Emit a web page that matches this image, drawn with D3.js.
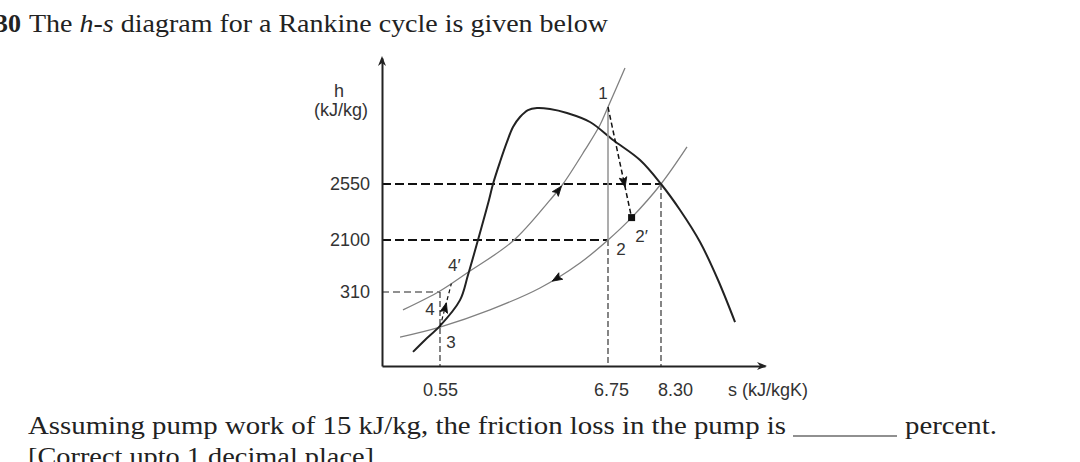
<!DOCTYPE html>
<html><head><meta charset="utf-8">
<script src="https://cdn.jsdelivr.net/npm/d3@7"></script>
<style>
html,body{margin:0;padding:0;background:#fff;overflow:hidden}
svg{display:block}
</style></head>
<body>
<svg id="c" width="1080" height="462"></svg>
<script>
// ---- data (s in kJ/kgK, h in kJ/kg, schematic values) ----
const sTicks = [0.55, 6.75, 8.30];
const sTickLabels = ["0.55", "6.75", "8.30"];
const hTicks = [310, 2100, 2550];
const hTickLabels = ["310", "2100", "2550"];

// saturation dome
const domeS = [0.294, 0.408, 0.55, 1.288, 1.583, 1.952, 2.358, 2.506, 2.764, 3.022, 3.244, 3.502, 3.797, 4.130, 4.609, 5.236, 6.085, 6.896, 7.686, 8.30, 8.856, 9.441, 9.967, 10.464];
const domeH = [59, 109, 168, 276, 895, 2100, 2421, 2550, 2726, 2887, 3007, 3087, 3143, 3159, 3151, 3119, 3047, 2903, 2742, 2550, 2341, 2031, 723, 184];

// high-pressure isobar (through 4, 4', 1)
const highS = [0.199, 0.55, 1.546, 3.244, 4.609, 5.089, 5.901, 6.454, 6.75, 7.247];
const highH = [235, 344, 964, 2066, 2421, 2550, 2823, 3023, 3167, 3480];

// low-pressure isobar (through 3, 2, 2')
const lowS = [0.171, 0.55, 2.395, 4.240, 5.716, 6.75, 7.44, 8.30, 9.060];
const lowH = [121, 163, 235, 448, 1308, 2100, 2280, 2550, 2847];

// state points
const pointNames = ["1", "2", "2\u2032", "3", "4", "4\u2032"];
const pointS = [6.75, 6.75, 7.44, 0.55, 0.55, 0.97];
const pointH = [3167, 2100, 2280, 163, 310, 600];

// header / question texts
const titleNum = "30";
const titleParts = ["The ", "h-s", " diagram for a Rankine cycle is given below"];
const question = "Assuming pump work of 15 kJ/kg, the friction loss in the pump is";
const questionEnd = "percent.";
const note = "[Correct upto 1 decimal place]";

// ---- drawing ----
const svg = d3.select("#c");
const x = d3.scaleLinear().domain([0, 0.55, 6.75, 8.30, 11.34]).range([382, 440, 608, 661, 765]);
const y = d3.scaleLinear().domain([0, 310, 2100, 2550, 3560]).range([366, 292, 240, 184, 58]);
const P = {}; pointNames.forEach((n, i) => P[n] = [x(pointS[i]), y(pointH[i])]);
const sansF = "'Liberation Sans', Arial, sans-serif";
const serifF = "'Liberation Serif', 'Times New Roman', serif";
const line = d3.line().x(d => x(d[0])).y(d => y(d[1])).curve(d3.curveCatmullRom.alpha(0.5));
const zip = (a, b) => a.map((v, i) => [v, b[i]]);

// title
svg.append("text").attr("x", -5).attr("y", 32).attr("font-family", serifF).attr("font-size", 26)
  .attr("font-weight", "bold").attr("fill", "#222").text(titleNum);
const t = svg.append("text").attr("x", 29).attr("y", 32).attr("font-family", serifF).attr("font-size", 26).attr("fill", "#222");
titleParts.forEach((p, i) => t.append("tspan").attr("font-style", i === 1 ? "italic" : null).text(p));
t.attr("textLength", 579).attr("lengthAdjust", "spacingAndGlyphs");

// question
svg.append("text").attr("x", 28).attr("y", 434).attr("font-family", serifF).attr("font-size", 26).attr("fill", "#222")
  .attr("textLength", 758).attr("lengthAdjust", "spacingAndGlyphs").text(question);
svg.append("line").attr("x1", 793).attr("x2", 897).attr("y1", 436).attr("y2", 436).attr("stroke", "#222").attr("stroke-width", 1.2);
svg.append("text").attr("x", 905).attr("y", 434).attr("font-family", serifF).attr("font-size", 26).attr("fill", "#222")
  .attr("textLength", 92).attr("lengthAdjust", "spacingAndGlyphs").text(questionEnd);
svg.append("text").attr("x", 28).attr("y", 465).attr("font-family", serifF).attr("font-size", 26).attr("fill", "#222")
  .attr("textLength", 346).attr("lengthAdjust", "spacingAndGlyphs").text(note);

// guide lines
const g = svg.append("g");
g.append("line").attr("x1", x(0)).attr("x2", x(8.30)).attr("y1", y(2550)).attr("y2", y(2550))
  .attr("stroke", "#111").attr("stroke-width", 2.2).attr("stroke-dasharray", "9,4");
g.append("line").attr("x1", x(0)).attr("x2", x(6.75)).attr("y1", y(2100)).attr("y2", y(2100))
  .attr("stroke", "#111").attr("stroke-width", 2.2).attr("stroke-dasharray", "9,4");
g.append("line").attr("x1", x(0)).attr("x2", x(0.55)).attr("y1", y(310)).attr("y2", y(310))
  .attr("stroke", "#222").attr("stroke-width", 1.1).attr("stroke-dasharray", "7,4");
[[0.55, 310], [6.75, 2100], [8.30, 2550]].forEach(([s, h]) => {
  g.append("line").attr("x1", x(s)).attr("x2", x(s)).attr("y1", y(h)).attr("y2", y(0))
    .attr("stroke", "#222").attr("stroke-width", 1.1).attr("stroke-dasharray", "6,3");
});

// isobars
const highPath = g.append("path").attr("d", line(zip(highS, highH))).attr("fill", "none").attr("stroke", "#808080").attr("stroke-width", 1.3);
const lowPath = g.append("path").attr("d", line(zip(lowS, lowH))).attr("fill", "none").attr("stroke", "#808080").attr("stroke-width", 1.3);
// dome
g.append("path").attr("d", line(zip(domeS, domeH))).attr("fill", "none").attr("stroke", "#222").attr("stroke-width", 2);

// isentropic 1-2 (solid grey)
g.append("line").attr("x1", P["1"][0]).attr("y1", P["1"][1]).attr("x2", P["2"][0]).attr("y2", P["2"][1])
  .attr("stroke", "#999").attr("stroke-width", 1.6);
// actual 1-2'
g.append("line").attr("x1", P["1"][0]).attr("y1", P["1"][1]).attr("x2", P["2\u2032"][0]).attr("y2", P["2\u2032"][1])
  .attr("stroke", "#111").attr("stroke-width", 1.5).attr("stroke-dasharray", "5,3");
// pump 3-4'
g.append("line").attr("x1", P["3"][0]).attr("y1", P["3"][1]).attr("x2", P["4\u2032"][0]).attr("y2", P["4\u2032"][1])
  .attr("stroke", "#111").attr("stroke-width", 1.2).attr("stroke-dasharray", "4,3");

// 2' marker
g.append("rect").attr("x", P["2\u2032"][0] - 3.5).attr("y", P["2\u2032"][1] - 3.5).attr("width", 7).attr("height", 7).attr("fill", "#111");

// arrowheads
const headD = "M4,0 L-6,-3.8 L-4,0 L-6,3.8 Z";
function arrowAt(node, frac, reverse) {
  const L = node.getTotalLength();
  const a = node.getPointAtLength(L * frac);
  const b = node.getPointAtLength(L * frac + (reverse ? -2 : 2));
  const ang = Math.atan2(b.y - a.y, b.x - a.x) * 180 / Math.PI;
  g.append("path").attr("d", headD)
    .attr("transform", `translate(${a.x},${a.y}) rotate(${ang})`).attr("fill", "#111").attr("stroke", "#111").attr("stroke-width", 0.8);
}
arrowAt(highPath.node(), 0.59, false);
arrowAt(lowPath.node(), 0.47, true);
function arrowLine(p0, p1, frac) {
  const ax = p0[0] + (p1[0] - p0[0]) * frac, ay = p0[1] + (p1[1] - p0[1]) * frac;
  const ang = Math.atan2(p1[1] - p0[1], p1[0] - p0[0]) * 180 / Math.PI;
  g.append("path").attr("d", headD)
    .attr("transform", `translate(${ax},${ay}) rotate(${ang})`).attr("fill", "#111").attr("stroke", "#111").attr("stroke-width", 0.8);
}
arrowLine(P["1"], P["2\u2032"], 0.69);
arrowLine(P["3"], P["4\u2032"], 0.47);

// axes
const ax = svg.append("g");
const yAxis = ax.append("g").attr("transform", `translate(${x(0)},0)`)
  .call(d3.axisLeft(y).tickValues(hTicks).tickFormat((d, i) => hTickLabels[i]).tickSize(0).tickPadding(12));
const xAxis = ax.append("g").attr("transform", `translate(0,${y(0)})`)
  .call(d3.axisBottom(x).tickValues(sTicks).tickFormat((d, i) => sTickLabels[i]).tickSize(0).tickPadding(17));
[yAxis, xAxis].forEach(a => {
  a.select(".domain").attr("stroke", "#222").attr("stroke-width", 2);
  a.selectAll("text").attr("font-family", sansF).attr("font-size", 18).attr("fill", "#333");
});
const nudge = [0, 3, 14];
xAxis.selectAll(".tick text").attr("dx", (d, i) => nudge[i]);
ax.append("path").attr("d", "M0,-2 L-4,8 L0,5 L4,8 Z").attr("transform", `translate(${x(0)},${y.range()[4]})`).attr("fill", "#222");
ax.append("path").attr("d", "M2,0 L-8,-4 L-5,0 L-8,4 Z").attr("transform", `translate(${x.range()[4]},${y(0)})`).attr("fill", "#222");

// axis titles
ax.append("text").attr("x", 339).attr("y", 97).attr("text-anchor", "middle").attr("font-family", sansF).attr("font-size", 18).attr("fill", "#333").text("h");
ax.append("text").attr("x", 341).attr("y", 116).attr("text-anchor", "middle").attr("font-family", sansF).attr("font-size", 18).attr("fill", "#333").text("(kJ/kg)");
ax.append("text").attr("x", 768).attr("y", 396).attr("text-anchor", "middle").attr("font-family", sansF).attr("font-size", 18).attr("fill", "#333").text("s (kJ/kgK)");

// point labels
const lbl = svg.append("g").attr("font-family", sansF).attr("font-size", 17).attr("fill", "#333");
const off = {"1": [-5, -8], "2": [13, 15], "2\u2032": [10, 24], "3": [11, 21], "4": [-10, 23], "4\u2032": [3, -13]};
pointNames.forEach(n => {
  lbl.append("text").attr("x", P[n][0] + off[n][0]).attr("y", P[n][1] + off[n][1]).attr("text-anchor", "middle").text(n);
});
</script>
</body></html>
